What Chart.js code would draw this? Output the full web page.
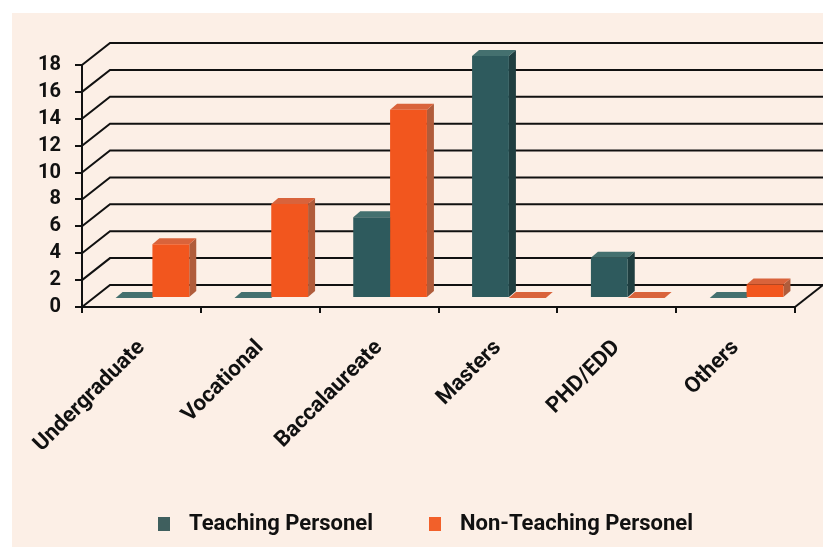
<!DOCTYPE html>
<html>
<head>
<meta charset="utf-8">
<script src="https://cdn.jsdelivr.net/npm/chart.js@4.4.0/dist/chart.umd.min.js"></script>
<style>
  html, body { margin: 0; padding: 0; background: #fff; }
  canvas { display: block; }
</style>
</head>
<body>
<canvas id="chart" width="823" height="554"></canvas>
<script>
var categories = ['Undergraduate', 'Vocational', 'Baccalaureate', 'Masters', 'PHD/EDD', 'Others'];
var teaching = [0, 0, 6, 18, 3, 0];
var nonTeaching = [4, 7, 14, 0, 0, 1];
var yTicks = [0, 2, 4, 6, 8, 10, 12, 14, 16, 18];
var seriesNames = ['Teaching Personel', 'Non-Teaching Personel'];

// fake 3d: back wall offset, where the bars sit, and bar depth
var WALL = { dx: 28, dy: -22 };
var SHIFT = { dx: 11, dy: -9 };
var DEPTH = { dx: 7, dy: -6 };

var faces = [
  { front: '#2e5a5d', side: '#1f3e40', top: '#44706f' },
  { front: '#f2561e', side: '#b05c3b', top: '#d9633b' },
];

function swatch(color) {
  var c = document.createElement('canvas');
  c.width = 12;
  c.height = 14;
  var g = c.getContext('2d');
  g.fillStyle = color;
  g.fillRect(0, 0, 12, 14);
  return c;
}
var swatches = [swatch('#3f5f5e'), swatch('#f2602a')];

var box3d = {
  id: 'box3d',
  beforeDraw: function (chart) {
    var ctx = chart.ctx;
    ctx.save();
    ctx.fillStyle = '#fff';
    ctx.fillRect(0, 0, chart.width, chart.height);
    ctx.fillStyle = '#fcefe6';
    ctx.fillRect(12, 13, chart.width - 12, 534);
    ctx.restore();
  },
  afterLayout: function (chart) {
    // legend sits a bit right of centre in the original
    chart.legend.left += 48;
  },
  beforeDatasetsDraw: function (chart) {
    var ctx = chart.ctx;
    var area = chart.chartArea;
    var y = chart.scales.y;
    // back wall grid + side wall diagonals
    ctx.save();
    ctx.strokeStyle = '#111';
    ctx.lineWidth = 2;
    yTicks.forEach(function (v) {
      var py = y.getPixelForValue(v);
      ctx.beginPath();
      ctx.moveTo(area.left, py);
      ctx.lineTo(area.left + WALL.dx, py + WALL.dy);
      ctx.lineTo(chart.width, py + WALL.dy);
      ctx.stroke();
    });
    ctx.beginPath();
    ctx.moveTo(area.right, area.bottom);
    ctx.lineTo(area.right + WALL.dx, area.bottom + WALL.dy);
    ctx.stroke();
    ctx.restore();

    // bars stand half way into the box; left open until afterDatasetsDraw
    ctx.save();
    ctx.translate(SHIFT.dx, SHIFT.dy);
    for (var i = 0; i < categories.length; ++i) {
      for (var k = 0; k < 2; ++k) {
        var bar = chart.getDatasetMeta(k).data[i];
        var p = bar.getProps(['x', 'y', 'base', 'width'], true);
        var l = p.x - p.width / 2;
        var r = p.x + p.width / 2;
        ctx.fillStyle = faces[k].side;
        ctx.beginPath();
        ctx.moveTo(r, p.y);
        ctx.lineTo(r + DEPTH.dx, p.y + DEPTH.dy);
        ctx.lineTo(r + DEPTH.dx, p.base + DEPTH.dy);
        ctx.lineTo(r, p.base);
        ctx.closePath();
        ctx.fill();
        ctx.fillStyle = faces[k].top;
        ctx.beginPath();
        ctx.moveTo(l, p.y);
        ctx.lineTo(r, p.y);
        ctx.lineTo(r + DEPTH.dx, p.y + DEPTH.dy);
        ctx.lineTo(l + DEPTH.dx, p.y + DEPTH.dy);
        ctx.closePath();
        ctx.fill();
      }
    }
  },
  afterDatasetsDraw: function (chart) {
    chart.ctx.restore();
  },
};

new Chart(document.getElementById('chart').getContext('2d'), {
  type: 'bar',
  data: {
    labels: categories,
    datasets: [{
      label: seriesNames[0],
      data: teaching,
      backgroundColor: faces[0].front,
    }, {
      label: seriesNames[1],
      data: nonTeaching,
      backgroundColor: faces[1].front,
    }],
  },
  options: {
    responsive: false,
    animation: false,
    layout: {
      padding: { left: 0, right: 28, top: 65, bottom: 9 },
    },
    datasets: {
      bar: {
        barPercentage: 1,
        categoryPercentage: 0.62,
        borderWidth: 0,
        clip: false,
      },
    },
    scales: {
      x: {
        afterFit: function (s) { s.height = 158; },
        grid: { drawOnChartArea: false, tickLength: 6, color: '#111', lineWidth: 2 },
        border: { color: '#111', width: 2 },
        ticks: {
          autoSkip: false,
          minRotation: 45,
          maxRotation: 45,
          padding: 22,
          color: '#111',
          font: { family: 'Roboto', weight: 'bold', size: 22 },
        },
      },
      y: {
        min: 0,
        max: 18,
        afterFit: function (s) { s.width = 82; },
        grid: { drawOnChartArea: false, tickLength: 7, color: '#111', lineWidth: 2 },
        border: { color: '#111', width: 2 },
        ticks: {
          autoSkip: false,
          stepSize: 2,
          padding: 14,
          color: '#111',
          font: { family: 'Roboto', weight: 'bold', size: 20 },
        },
      },
    },
    plugins: {
      tooltip: { enabled: false },
      legend: {
        position: 'bottom',
        labels: {
          usePointStyle: true,
          pointStyleWidth: 28,
          padding: 48,
          color: '#111',
          font: { family: 'Roboto', weight: 'bold', size: 22 },
          generateLabels: function (chart) {
            var items = Chart.defaults.plugins.legend.labels.generateLabels(chart);
            items.forEach(function (it, i) {
              it.pointStyle = swatches[i];
            });
            return items;
          },
        },
      },
    },
  },
  plugins: [box3d],
});
</script>
</body>
</html>
